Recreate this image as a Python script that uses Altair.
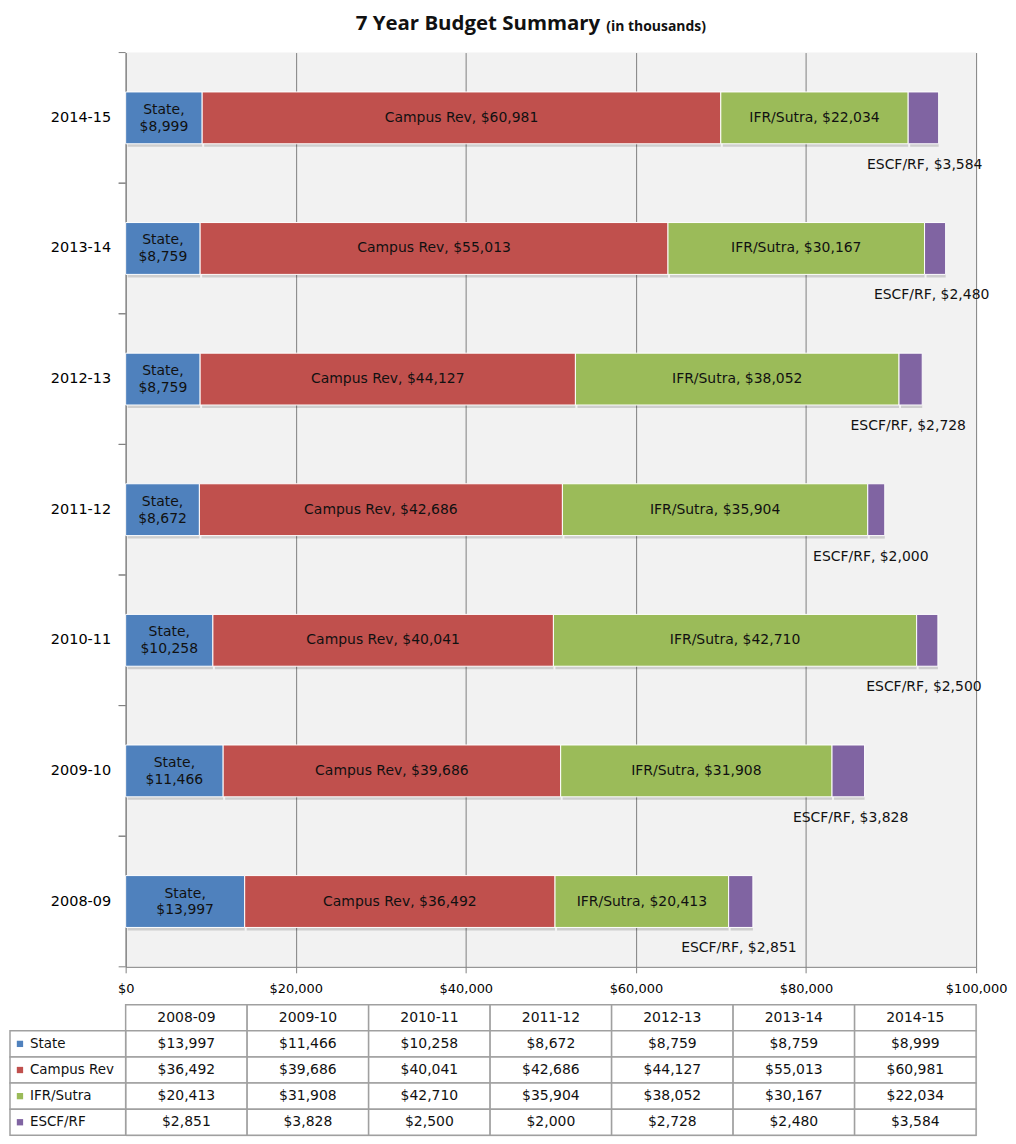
import altair as alt
import pandas as pd

years = ["2008-09", "2009-10", "2010-11", "2011-12", "2012-13", "2013-14", "2014-15"]
series = ["State", "Campus Rev", "IFR/Sutra", "ESCF/RF"]
colors = ["#4f81bd", "#c0504d", "#9bbb59", "#8064a2"]
state = [13997, 11466, 10258, 8672, 8759, 8759, 8999]
campus_rev = [36492, 39686, 40041, 42686, 44127, 55013, 60981]
ifr_sutra = [20413, 31908, 42710, 35904, 38052, 30167, 22034]
escf_rf = [2851, 3828, 2500, 2000, 2728, 2480, 3584]
x_ticks = [0, 20000, 40000, 60000, 80000, 100000]

FONT = "DejaVu Sans"
values = {"State": state, "Campus Rev": campus_rev, "IFR/Sutra": ifr_sutra, "ESCF/RF": escf_rf}

rows = []
for si, s in enumerate(series):
    for yi, y in enumerate(years):
        v = values[s][yi]
        money = f"${v:,}"
        label = f"State,\n{money}" if s == "State" else f"{s},  {money}"
        rows.append(dict(year=y, series=s, order=si, value=v, money=money, label=label))
df = pd.DataFrame(rows)

EXT = 116
year_order = years[::-1]
color_scale = alt.Scale(domain=series, range=colors)
xs = alt.Scale(domain=[0, 100000], nice=False, zero=True)
y_axis = alt.Axis(title=None, ticks=False, domainColor="#808080", domainWidth=1,
                  labelFont=FONT, labelFontSize=14.5, labelColor="#000000",
                  labelPadding=15, minExtent=EXT, maxExtent=EXT)
y_scale = alt.Scale(paddingInner=0, paddingOuter=0)
Y = alt.Y("year:N", sort=year_order, scale=y_scale, axis=y_axis)

base = alt.Chart(df).transform_stack(
    stack="value", groupby=["year"], sort=[alt.SortField("order")], as_=["x0", "x1"]
).transform_calculate(mid="(datum.x0 + datum.x1) / 2")

x_axis = alt.Axis(values=x_ticks, format="$,.0f", grid=True, gridColor="#808080", gridWidth=1,
                  domainColor="#808080", tickColor="#808080", tickSize=6,
                  labelFont=FONT, labelFontSize=13, labelColor="#000000",
                  labelPadding=10, labelFlush=False, title=None)

shadow = base.mark_bar(size=52, color="#000000", opacity=0.15, xOffset=2, yOffset=3).encode(
    x=alt.X("x0:Q", scale=xs, axis=x_axis), x2="x1:Q", y=Y)

bars = base.mark_bar(size=52, stroke="#ffffff", strokeWidth=1).encode(
    x=alt.X("x0:Q", scale=xs, axis=x_axis), x2="x1:Q", y=Y,
    color=alt.Color("series:N", scale=color_scale, legend=None))

inner_state = base.transform_filter("datum.order == 0").mark_text(
    font=FONT, fontSize=14, color="#111111", lineBreak="\n", lineHeight=17,
    baseline="middle", align="center", dy=-8
).encode(x=alt.X("mid:Q", scale=xs), y=Y, text="label:N")

inner = base.transform_filter("datum.order == 1 || datum.order == 2").mark_text(
    font=FONT, fontSize=14, color="#111111", baseline="middle", align="center"
).encode(x=alt.X("mid:Q", scale=xs), y=Y, text="label:N")

outer = base.transform_filter("datum.order == 3").mark_text(
    font=FONT, fontSize=14, color="#111111", baseline="middle", align="center", dx=-14, dy=47
).encode(x=alt.X("x1:Q", scale=xs), y=Y, text="label:N")

ydf = pd.DataFrame({"year": years})
tick_top = alt.Chart(ydf).mark_rule(color="#808080").encode(
    y=alt.Y("year:N", sort=year_order, scale=y_scale, axis=y_axis, bandPosition=0),
    x=alt.value(-7), x2=alt.value(0))
tick_bot = alt.Chart(ydf).mark_rule(color="#808080").encode(
    y=alt.Y("year:N", sort=year_order, scale=y_scale, axis=y_axis, bandPosition=1),
    x=alt.value(-7), x2=alt.value(0))

title_main = alt.Chart(pd.DataFrame({"t": ["7 Year Budget Summary"]})).mark_text(
    font="Open Sans", fontSize=20.5, fontWeight="bold", align="right", baseline="middle", color="#111111"
).encode(x=alt.value(476), y=alt.value(-29), text="t:N")
title_sub = alt.Chart(pd.DataFrame({"t": ["(in thousands)"]})).mark_text(
    font="Open Sans", fontSize=14, fontWeight="bold", align="left", baseline="middle", color="#111111"
).encode(x=alt.value(482), y=alt.value(-26), text="t:N")

main = alt.layer(shadow, bars, inner_state, inner, outer, tick_top, tick_bot,
                 title_main, title_sub).properties(
    width=853, height=917, view=alt.ViewBackground(fill="#f2f2f2", stroke=None))

# data table
row_order = ["header"] + series
trows = []
for y in years:
    trows.append(dict(year=y, row="header", text=y))
for s in series:
    for yi, y in enumerate(years):
        trows.append(dict(year=y, row=s, text=f"${values[s][yi]:,}"))
tdf = pd.DataFrame(trows)

tX = alt.X("year:N", sort=years, axis=None, scale=alt.Scale(paddingInner=0, paddingOuter=0))
tY = alt.Y("row:N", sort=row_order, axis=None,
           scale=alt.Scale(domain=row_order, paddingInner=0, paddingOuter=0))
cells = alt.Chart(tdf).mark_rect(fill="#ffffff", stroke="#a0a0a0", strokeWidth=1.5).encode(x=tX, y=tY)
ctext = alt.Chart(tdf).mark_text(font=FONT, fontSize=14, color="#111111", baseline="middle").encode(
    x=tX, y=tY, text="text:N")

ldf = pd.DataFrame({"row": series, "series": series})
lcells = alt.Chart(ldf).mark_rect(fill="#ffffff", stroke="#a0a0a0", strokeWidth=1.5).encode(
    y=tY, x=alt.value(-EXT), x2=alt.value(0))
lsw = alt.Chart(ldf).mark_square(size=40, opacity=1).encode(
    y=tY, x=alt.value(-EXT + 10), color=alt.Color("series:N", scale=color_scale, legend=None))
ltext = alt.Chart(ldf).mark_text(font=FONT, fontSize=13.5, color="#111111", align="left",
                                 baseline="middle").encode(y=tY, x=alt.value(-EXT + 20), text="row:N")

table = alt.layer(cells, ctext, lcells, lsw, ltext).properties(width=853, height=131)

chart = alt.vconcat(main, table, spacing=7).properties(
    padding={"left": 0, "top": 4, "right": 0, "bottom": 0}
).configure_view(stroke=None).configure(font=FONT)

chart.save("out.html", embed_options={"renderer": "svg", "actions": False})
